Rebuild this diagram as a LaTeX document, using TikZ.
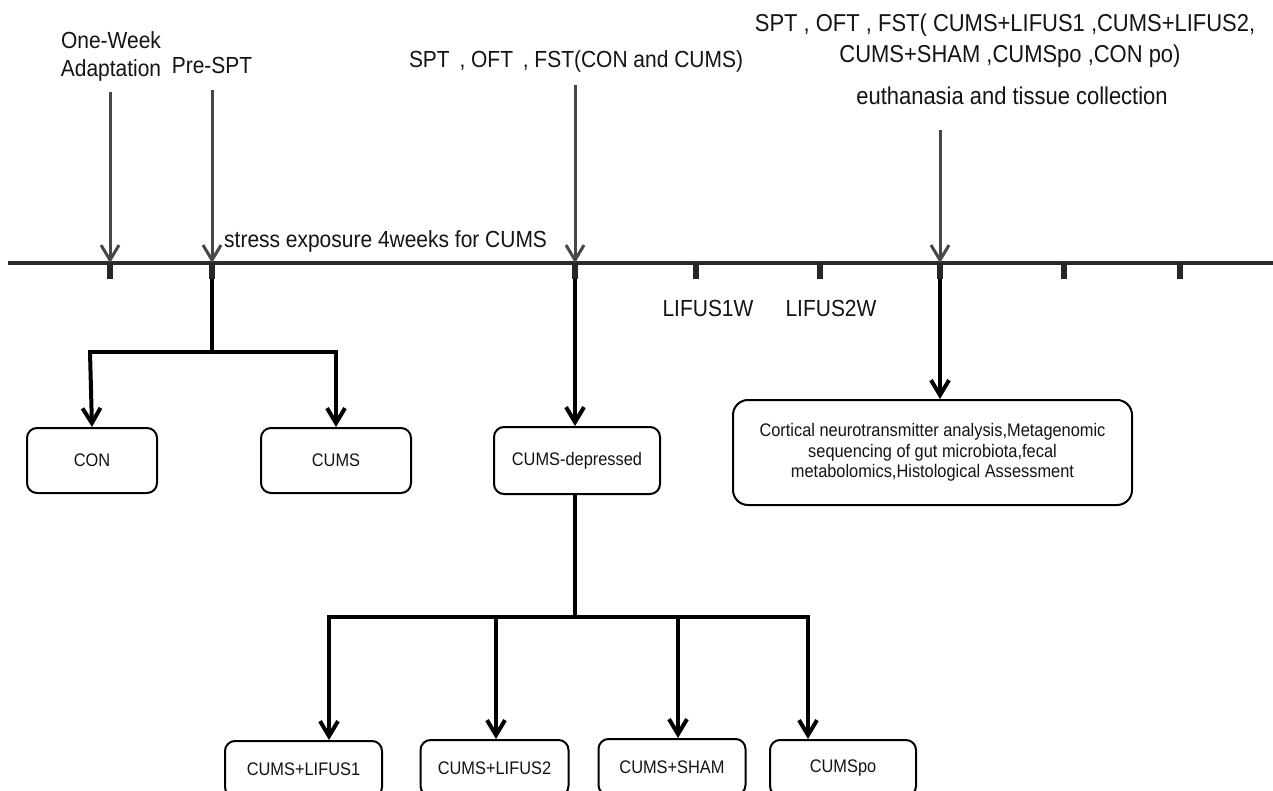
\documentclass[tikz,border=0pt]{standalone}
\usepackage{fontspec}
\setmainfont{Liberation Sans}[FakeStretch=0.9]
\usetikzlibrary{arrows.meta}
\begin{document}
\begin{tikzpicture}[x=1pt,y=-1pt,
  lbl/.style={font=\fontsize{23.3}{30}\selectfont, inner sep=0pt, text=black!92},
  rlbl/.style={font=\fontsize{24.4}{31}\selectfont, inner sep=0pt, text=black!92},
  grp/.style={draw=black, line width=2pt, rounded corners=10pt, align=center,
    font=\fontsize{18.2}{20.5}\selectfont, inner sep=0pt, text=black!92},
  garrow/.style={draw=black!72, line width=3pt, -{Straight Barb[length=15pt,width=18pt]}},
  barrow/.style={draw=black, line width=4pt, -{Straight Barb[length=15pt,width=18pt]}},
  bline/.style={draw=black, line width=4pt},
  tickmark/.style={draw=black!85, line width=6pt},
]
\fill[white] (0,0) rectangle (1273,791);
\clip (0,0) rectangle (1273,791);

% timeline
\coordinate (tl0) at (8,263);
\coordinate (tl1) at (1273,263);
\draw[line width=4.5pt, black!83] (tl0) -- (tl1);
\foreach \x/\n in {110/t1,212/t2,575/t3,696/t4,820/t5,940/t6,1064/t7,1180/t8}{
  \coordinate (\n) at (\x,263);
  \coordinate (\n b) at (\x,279);
  \draw[tickmark] (\n) -- (\n b);
}

% top labels
\node[lbl] (ow) at (111,40) {One-Week};
\node[lbl] (ad) at (111,70) {Adaptation};
\node[lbl] (pre) at (212,65) {Pre-SPT};
\node[lbl] (spt1) at (576,61) {SPT\,\ ,\ OFT\,\ ,\ FST(CON and CUMS)};
\node[rlbl] (r1) at (1005,25) {SPT , OFT , FST( CUMS+LIFUS1 ,CUMS+LIFUS2,};
\node[rlbl] (r2) at (1010,56) {CUMS+SHAM ,CUMSpo ,CON po)};
\node[rlbl] (r3) at (1012,96) {euthanasia and tissue collection};
\node[lbl, anchor=west] (stress) at (224,241) {stress exposure 4weeks for CUMS};
\node[lbl] (w1) at (708,308) {LIFUS1W};
\node[lbl] (w2) at (831,308) {LIFUS2W};

% gray arrows onto the timeline
\coordinate (a1) at (110,92);
\coordinate (a2) at (212,90);
\coordinate (a3) at (575,85);
\coordinate (a4) at (940,130);
\draw[garrow] (a1) -- (t1);
\draw[garrow] (a2) -- (t2);
\draw[garrow] (a3) -- (t3);
\draw[garrow] (a4) -- (t6);

% boxes
\node[grp, minimum width=130pt, minimum height=65pt] (con) at (92,460.5) {CON};
\node[grp, minimum width=150pt, minimum height=65pt] (cums) at (336,460.5) {CUMS};
\node[grp, minimum width=166pt, minimum height=67pt] (dep) at (577,460.5) {CUMS-depressed};
\node[grp, rounded corners=15pt, minimum width=399pt, minimum height=105pt] (big) at (932.5,452.5)
  {Cortical neurotransmitter analysis,Metagenomic\\sequencing of gut microbiota,fecal\\metabolomics,Histological Assessment};
\node[grp, minimum width=157pt, minimum height=56pt] (l1) at (303.5,769) {CUMS+LIFUS1};
\node[grp, minimum width=148pt, minimum height=56pt] (l2) at (494.5,768) {CUMS+LIFUS2};
\node[grp, minimum width=147pt, minimum height=56pt] (sh) at (672,767) {CUMS+SHAM};
\node[grp, minimum width=146pt, minimum height=56pt] (po) at (843,768) {CUMSpo};

% first split
\coordinate (s1) at (212,352);
\coordinate (s1l) at (90,352);
\coordinate (s1r) at (336,352);
\draw[bline] (t2b) -- (s1);
\draw[bline, line cap=rect] (s1l) -- (s1r);
\draw[barrow] (s1l) -- (con.north);
\draw[barrow] (s1r) -- (cums.north);

% CUMS-depressed
\draw[barrow] (t3b) -- (t3b |- dep.north);
\draw[barrow] (t6b) -- (t6b |- big.north);

% second split
\coordinate (s2) at (575,617);
\coordinate (b1) at (329,617);
\coordinate (b2) at (496,617);
\coordinate (b3) at (678,617);
\coordinate (b4) at (808,617);
\draw[bline] (dep.south -| s2) -- (s2);
\draw[bline, line cap=rect] (b1) -- (b4);
\draw[barrow] (b1) -- (b1 |- l1.north);
\draw[barrow] (b2) -- (b2 |- l2.north);
\draw[barrow] (b3) -- (b3 |- sh.north);
\draw[barrow] (b4) -- (b4 |- po.north);
\end{tikzpicture}
\end{document}
